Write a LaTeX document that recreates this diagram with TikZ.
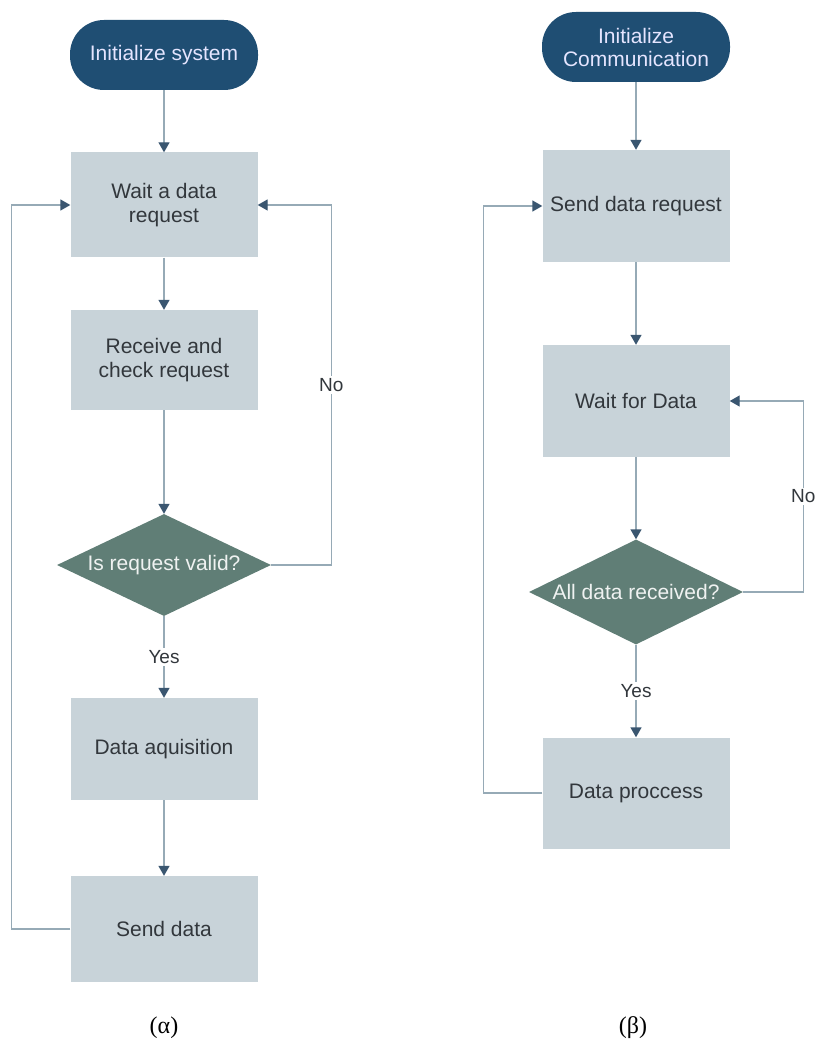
\documentclass[tikz,border=0pt]{standalone}
\usepackage{fontspec}
\setmainfont{Liberation Sans}
\newfontfamily\capfont{Liberation Serif}
\usetikzlibrary{arrows.meta,shapes.geometric}
\definecolor{termblue}{RGB}{31,78,115}
\definecolor{boxgray}{RGB}{200,211,217}
\definecolor{decgreen}{RGB}{96,126,118}
\definecolor{linegray}{RGB}{150,170,182}
\definecolor{tipdark}{RGB}{58,86,112}
\definecolor{txtdark}{RGB}{50,55,60}
\tikzset{
  term/.style={draw=none, fill=termblue, rounded corners=34pt, minimum width=188pt, minimum height=70pt, align=center, text=blue!10!white, font=\fontsize{21}{23}\selectfont},
  proc/.style={draw=none, fill=boxgray, minimum width=187pt, minimum height=105pt, align=center, text=txtdark, font=\fontsize{21}{24}\selectfont},
  dec/.style={diamond, draw=none, fill=decgreen, aspect=2.1, inner sep=0pt, minimum width=214pt, minimum height=102pt, text=white!90!decgreen, font=\fontsize{21}{23}\selectfont},
  lbl/.style={fill=white, inner sep=2pt, text=txtdark, font=\fontsize{19}{21}\selectfont},
  flow/.style={draw=linegray, line width=1.4pt, -{Triangle[length=10pt,width=11pt,color=tipdark]}},
  subcap/.style={font=\capfont\fontsize{24}{26}\selectfont}
}
\begin{document}
\begin{tikzpicture}[x=1pt,y=-1pt]
\useasboundingbox (0,0) rectangle (814,1048);
%(a)
\node [term] (init1) at (164,55) {Initialize system};
\node [proc] (wait1) at (164,205) {Wait a data\\request};
\node [proc, minimum height=100pt] (check1) at (164,360) {Receive and\\check request};
\node [dec] (valid1) at (164,565) {Is request valid?};
\node [proc, minimum height=102pt] (acq1) at (164,749) {Data aquisition};
\node [proc, minimum height=106pt] (send1) at (164,929) {Send data};
\draw [flow] (init1) -- (wait1);
\draw [flow] (wait1) -- (check1);
\draw [flow] (check1) -- (valid1);
\draw [flow] (valid1) -- node [lbl] {Yes} (acq1);
\draw [flow] (acq1) -- (send1);
\draw [flow] (valid1.east) -- ++(60,0) |- node [lbl, pos=0.25] {No} (wait1.east);
\draw [flow] (send1.west) -- ++(-59,0) |- (wait1.west);
%(b)
\node [term] (init2) at (636,47) {Initialize\\Communication};
\node [proc, minimum height=112pt] (req2) at (636,206) {Send data request};
\node [proc, minimum height=112pt] (wait2) at (636,401) {Wait for Data};
\node [dec, minimum height=105pt] (recv2) at (636,592) {All data received?};
\node [proc, minimum height=111pt] (proc2) at (636,793) {Data proccess};
\draw [flow] (init2) -- (req2);
\draw [flow] (req2) -- (wait2);
\draw [flow] (wait2) -- (recv2);
\draw [flow] (recv2) -- node [lbl] {Yes} (proc2);
\draw [flow] (recv2.east) -- ++(60,0) |- node [lbl, pos=0.25] {No} (wait2.east);
\draw [flow] (proc2.west) -- ++(-59,0) |- (req2.west);
%Didascalie
\node [subcap] (capa) at (164,1028) {(α)};
\node [subcap] (capb) at (633,1028) {(β)};
\end{tikzpicture}
\end{document}
